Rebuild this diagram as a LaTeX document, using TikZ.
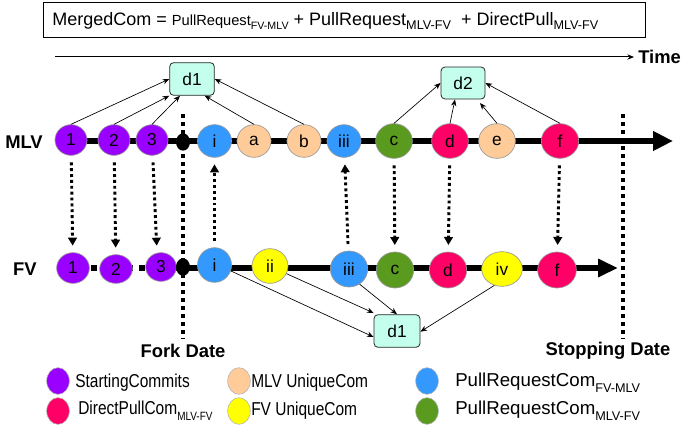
\documentclass[tikz,border=0pt]{standalone}
\usepackage{fontspec}
\setmainfont{Liberation Sans}
\newfontfamily\condfont[FakeStretch=0.83]{Liberation Sans}
\usetikzlibrary{arrows.meta,shapes.geometric}
\definecolor{cpurple}{HTML}{9900FF}
\definecolor{cpeach}{HTML}{FFCC99}
\definecolor{cblue}{HTML}{3399FF}
\definecolor{cgreen}{HTML}{5A9A1E}
\definecolor{cpink}{HTML}{FF0066}
\definecolor{cyellow}{HTML}{FFFF00}
\definecolor{cmint}{HTML}{C4FFEE}
\newcommand{\subtx}[2][9]{\raisebox{-0.32em}{\fontsize{#1}{#1}\selectfont #2}}
\begin{document}
\begin{tikzpicture}[x=0.75pt,y=-0.75pt,
  com/.style={ellipse,draw=gray!80,line width=0.5pt,minimum width=25.5pt,minimum height=24.5pt,inner sep=0pt,font=\fontsize{13}{13}\selectfont},
  dbox/.style={draw=black!85,fill=cmint,rounded corners=3pt,line width=0.6pt,minimum width=33.5pt,minimum height=24.5pt,inner sep=0pt,font=\fontsize{13}{13}\selectfont},
  forkdot/.style={ellipse,fill=black,minimum width=10.5pt,minimum height=13pt,inner sep=0pt},
  link/.style={line width=0.5pt,-{Stealth[length=5pt,width=4pt]}},
  sync/.style={line width=2.2pt,dash pattern=on 2.2pt off 2.2pt,shorten <=5pt,shorten >=5pt,-{Triangle[length=6pt,width=6.5pt]}},
  datel/.style={line width=3pt,dash pattern=on 3pt off 3pt},
  trunk/.style={line width=5pt},
  lbl/.style={font=\bfseries\fontsize{13.8}{14}\selectfont},
  leg/.style={ellipse,draw=gray!60,line width=0.4pt,minimum width=17pt,minimum height=20pt,inner sep=0pt},
  legt/.style={anchor=west,inner sep=0pt,font=\fontsize{14}{15}\selectfont}
]
\useasboundingbox (0,0) rectangle (681,435);

% title
\node[draw,line width=0.75pt,minimum width=451.5pt,minimum height=26.25pt,inner sep=0pt] (title) at (344,20.5) {};
\node[anchor=west,inner sep=0pt] (formula) at (52,21) {{\fontsize{13.5}{14}\selectfont MergedCom = }{\fontsize{11}{12}\selectfont PullRequest}\subtx[8]{FV-MLV}{\fontsize{13.5}{14}\selectfont\ + PullRequest}\subtx[9.5]{MLV-FV}{\fontsize{13.5}{14}\selectfont\ \ + DirectPull}\subtx[9.5]{MLV-FV}};

% time axis
\coordinate (t0) at (55,57);
\coordinate (t1) at (634,57);
\draw[line width=0.75pt,-{Stealth[length=5pt,width=4pt]}] (t0) -- (t1);
\node[lbl,anchor=west,inner sep=0pt] (time) at (638,57) {Time};

% date lines
\coordinate (fk0) at (183,114);
\coordinate (fk1) at (183,339);
\coordinate (st0) at (623,114);
\coordinate (st1) at (623,339);
\draw[datel] (fk0) -- (fk1);
\draw[datel] (st0) -- (st1);
\node[lbl,inner sep=0pt] (forklbl) at (183,351) {Fork Date};
\node[lbl,inner sep=0pt] (stoplbl) at (608,351) {Stopping Date};

% branch labels
\node[lbl,inner sep=0pt] (mlv) at (24,142) {MLV};
\node[lbl,inner sep=0pt] (fv) at (25,269) {FV};

% trunks
\coordinate (mstart) at (60,141);
\coordinate (mend) at (673,141);
\coordinate (fend) at (618,268);
\draw[trunk,-{Triangle[length=15pt,width=14pt]}] (mstart) -- (mend);

% MLV commits
\node[com,fill=cpurple,minimum width=24pt,minimum height=23pt] (m1) at (71,140) {1};
\node[com,fill=cpurple,minimum width=24pt,minimum height=23pt] (m2) at (114,140) {2};
\node[com,fill=cpurple,minimum width=24pt,minimum height=23pt] (m3) at (152,140) {3};
\node[forkdot] (mfork) at (183,142) {};
\node[com,fill=cblue] (mi) at (214.5,141) {i};
\node[com,fill=cpeach] (ma) at (254,141) {a};
\node[com,fill=cpeach] (mb) at (304,141) {b};
\node[com,fill=cblue] (miii) at (344,141) {iii};
\node[com,fill=cgreen,minimum width=27.5pt,minimum height=26pt] (mc) at (394,141) {c};
\node[com,fill=cpink,minimum width=27.5pt,minimum height=26pt] (md) at (450,141) {d};
\node[com,fill=cpeach,minimum width=27.5pt,minimum height=26pt] (me) at (497,141) {e};
\node[com,fill=cpink,minimum width=28pt,minimum height=26pt] (mf) at (560,141) {f};

% FV trunk
\draw[line width=4.5pt,dash pattern=on 4.5pt off 4.5pt,dash phase=4.5pt] (73,268) -- (161,268);
\draw[trunk,-{Triangle[length=15pt,width=13pt]}] (161,268) -- (fend);

% FV commits
\node[com,fill=cpurple,minimum width=24.5pt,minimum height=23pt] (f1) at (73,268) {1};
\node[com,fill=cpurple,minimum width=24.5pt,minimum height=21.5pt] (f2) at (116,269) {2};
\node[com,fill=cpurple,minimum width=23pt,minimum height=21.5pt] (f3) at (161,267) {3};
\node[forkdot] (ffork) at (183,267) {};
\node[com,fill=cblue,minimum height=26pt] (fi) at (214.5,265) {i};
\node[com,fill=cyellow,minimum width=27pt,minimum height=26pt] (fii) at (270,266) {ii};
\node[com,fill=cblue,minimum width=28pt,minimum height=27pt] (fiii) at (349,269) {iii};
\node[com,fill=cgreen,minimum width=28pt,minimum height=27pt] (fc) at (395,270) {c};
\node[com,fill=cpink,minimum width=28pt,minimum height=27pt] (fd) at (448,270) {d};
\node[com,fill=cyellow,minimum width=30.5pt,minimum height=26pt] (fiv) at (502,269) {iv};
\node[com,fill=cpink,minimum width=29pt,minimum height=27pt] (ff) at (557,270) {f};

% merge boxes
\node[dbox] (d1t) at (192,79) {d1};
\node[dbox,minimum width=33pt,minimum height=24pt] (d2) at (463,83) {d2};
\node[dbox,minimum width=34.5pt] (d1b) at (397,331) {d1};
\coordinate (d2e) at (480,103);

% links to top d1
\draw[link] (m1.north) -- (d1t.west);
\draw[link] (m2.north) -- (d1t.south west);
\draw[link] (m3.north) -- ([xshift=-9pt]d1t.south);
\draw[link] (ma.north) -- ([xshift=9.5pt]d1t.south);
\draw[link] (mb.north) -- (d1t.east);

% links to d2
\draw[link] (mc.north) -- (d2.west);
\draw[link] (md.north) -- ([xshift=-6pt]d2.south);
\draw[link] (me.north) -- (d2e);
\draw[link] (mf.north) -- (d2.east);

% links to bottom d1
\draw[link] (fi.-20) -- ([yshift=-4.5pt]d1b.west);
\draw[link] (fii.-25) -- ([yshift=1pt]d1b.north west);
\draw[link] (fiii.-55) -- (d1b.north);
\draw[link] (fiv.-115) -- ([yshift=-0.5pt]d1b.east);

% sync arrows
\draw[sync] (m1) -- (f1);
\draw[sync] (m2) -- (f2);
\draw[sync] (m3) -- ([xshift=-3pt]f3.north);
\draw[sync] (fi) -- (mi);
\draw[sync] (fiii) -- (miii);
\draw[sync] (mc) -- (fc);
\draw[sync] (md) -- (fd);
\draw[sync] (mf) -- (ff);

% legend
\node[leg,fill=cpurple] (lg1) at (58,381) {};
\node[leg,fill=cpink] (lg2) at (58,411) {};
\node[leg,fill=cpeach] (lg3) at (239,381) {};
\node[leg,fill=cyellow] (lg4) at (239,411) {};
\node[leg,fill=cblue] (lg5) at (427,381) {};
\node[leg,fill=cgreen] (lg6) at (427,411) {};
\node[legt] (lt1) at (75,383) {\condfont StartingCommits};
\node[legt] (lt2) at (78,411) {\condfont DirectPullCom\subtx[9]{MLV-FV}};
\node[legt] (lt3) at (251,383) {\condfont MLV UniqueCom};
\node[legt] (lt4) at (251,411) {\condfont FV UniqueCom};
\node[legt] (lt5) at (455,383) {PullRequestCom\subtx[9.5]{FV-MLV}};
\node[legt] (lt6) at (455,411) {PullRequestCom\subtx[9.5]{MLV-FV}};
\end{tikzpicture}
\end{document}
